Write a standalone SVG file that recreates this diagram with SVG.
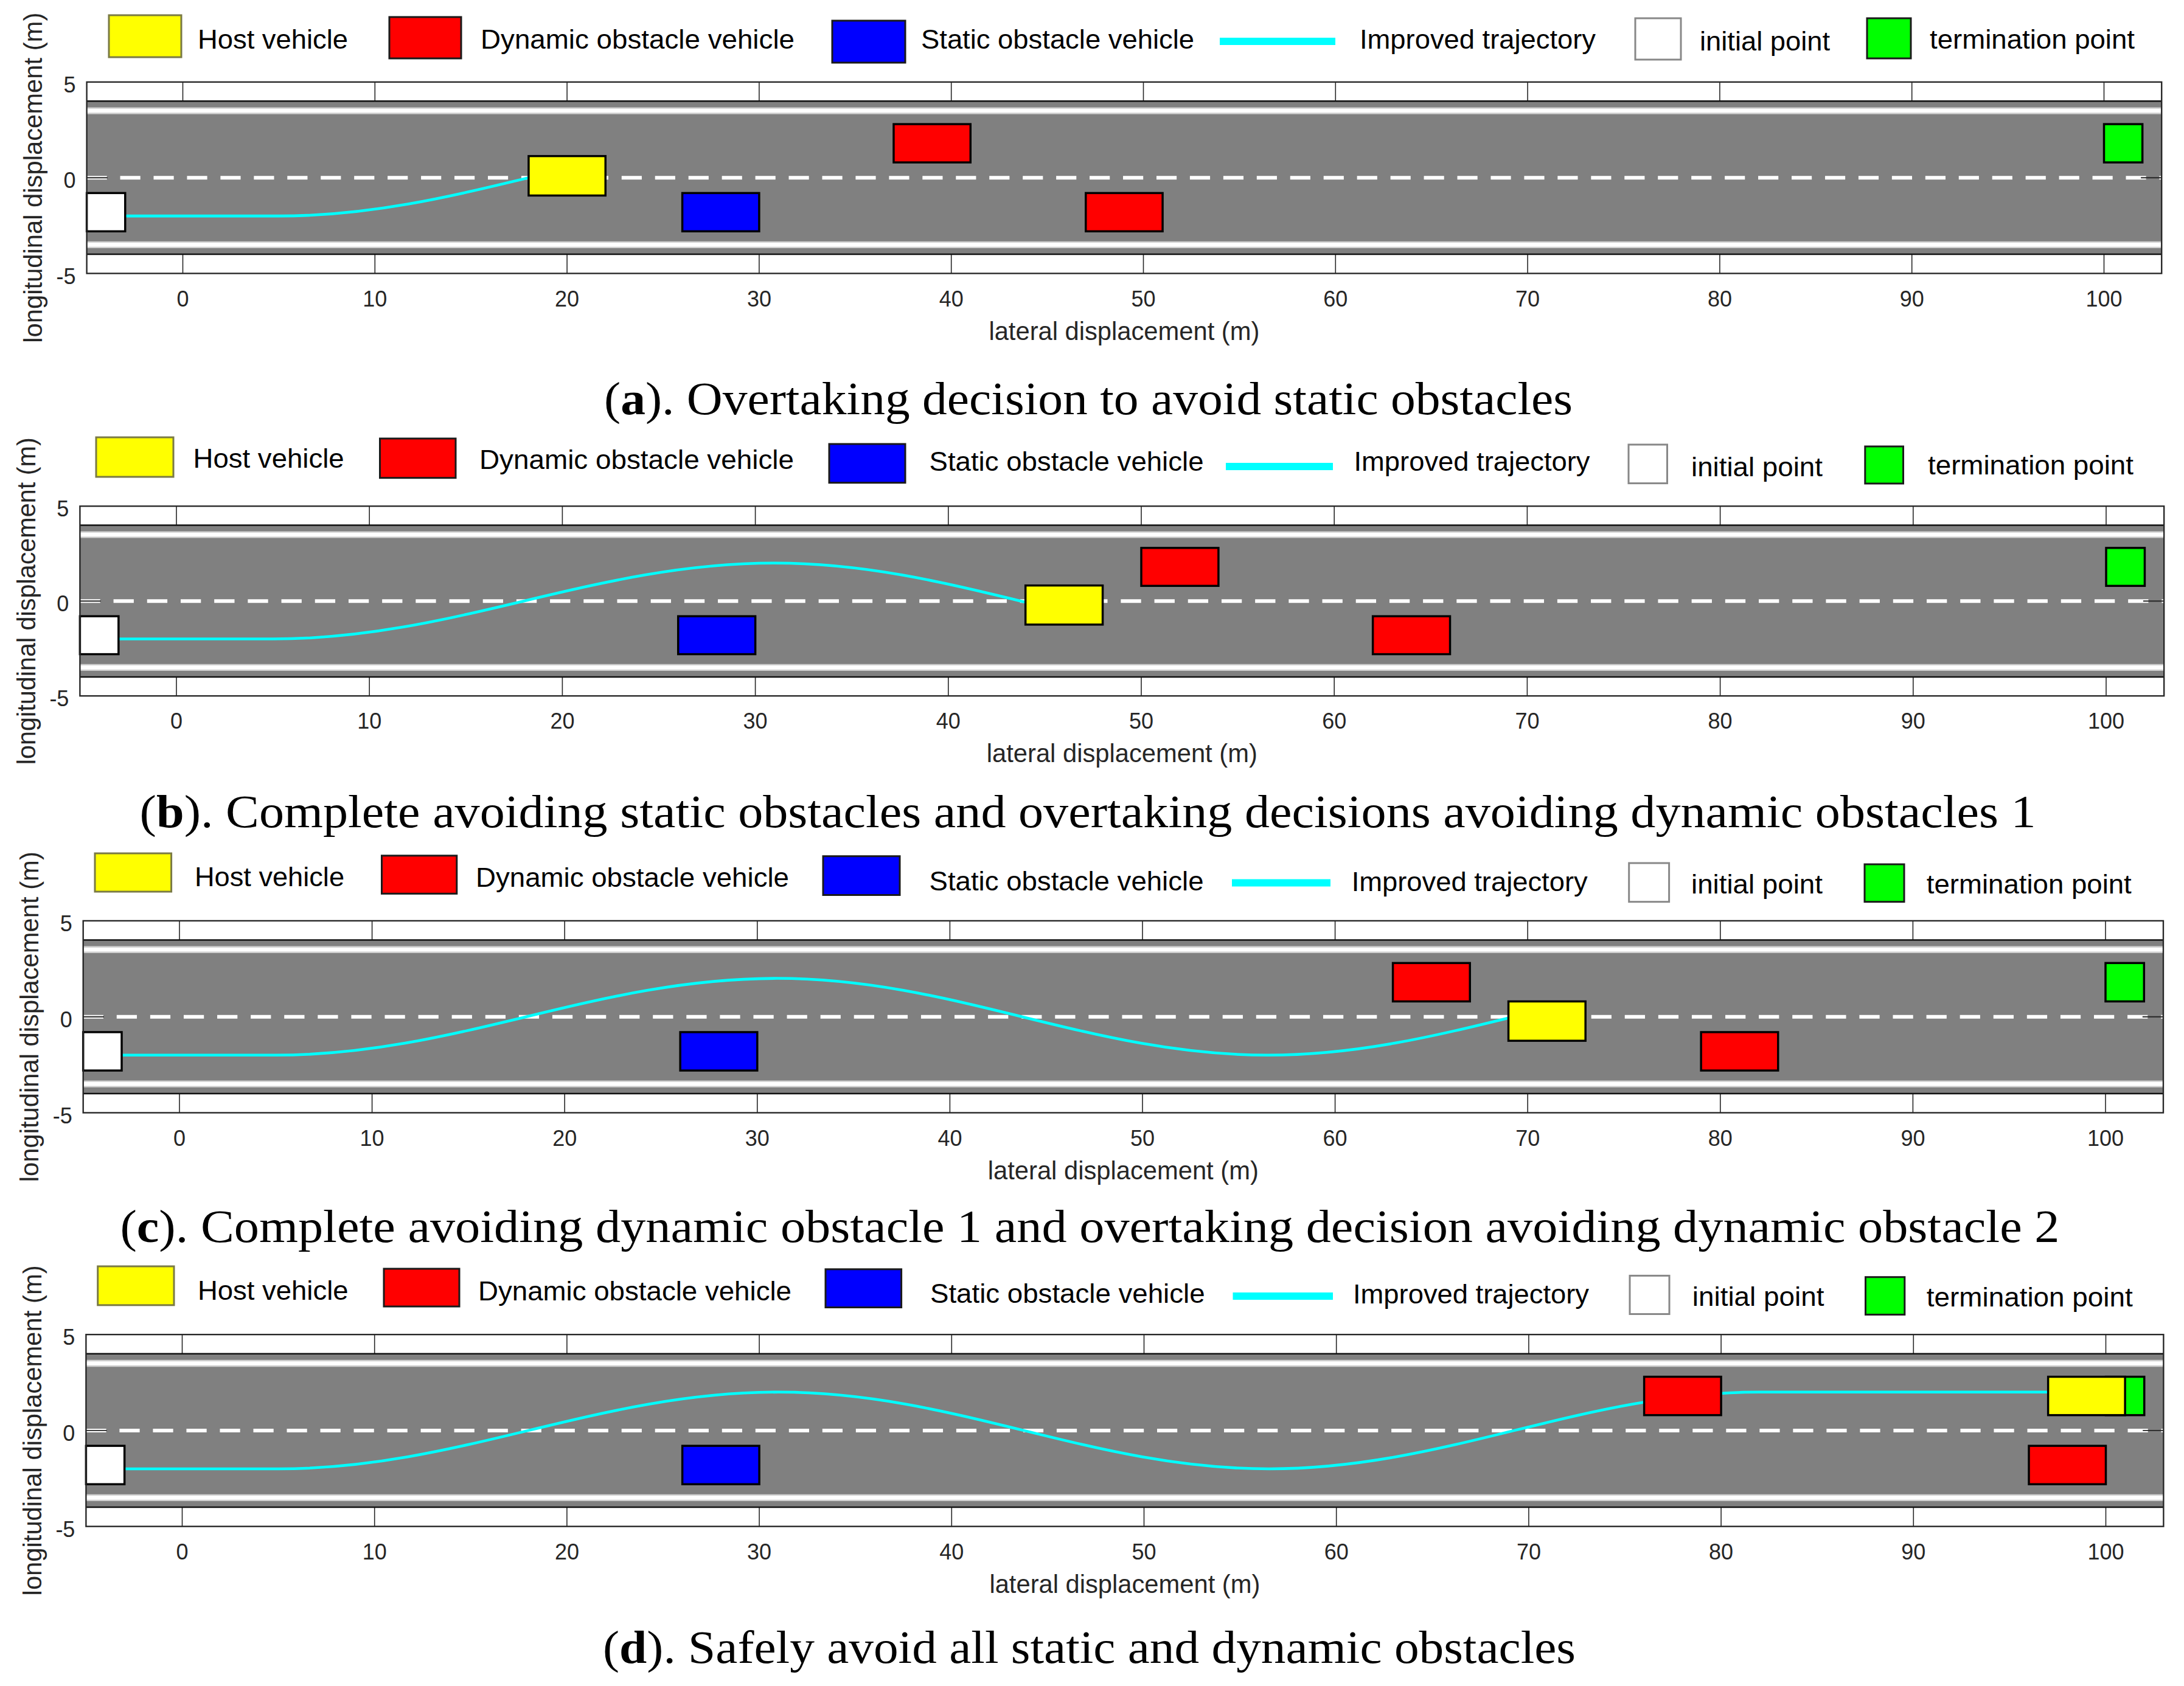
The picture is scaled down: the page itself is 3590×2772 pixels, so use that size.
<svg xmlns="http://www.w3.org/2000/svg" xmlns:xlink="http://www.w3.org/1999/xlink" width="3590" height="2772" viewBox="0 0 3590 2772">
<style>
.tick{font-family:"Liberation Sans",Arial,sans-serif;font-size:36px;fill:#262626;text-anchor:middle}
.ytick{font-family:"Liberation Sans",Arial,sans-serif;font-size:36px;fill:#262626;text-anchor:end}
.lab{font-family:"Liberation Sans",Arial,sans-serif;font-size:42px;fill:#262626;text-anchor:middle}
.leg{font-family:"Liberation Sans",Arial,sans-serif;font-size:45px;fill:#000}
.cap{font-family:"Liberation Serif","Times New Roman",serif;font-size:76px;fill:#000}
.lbox{stroke:#1a1a1a;stroke-width:3px}
.veh{stroke:#000;stroke-width:0.11px}
.traj{fill:none;stroke:#00ffff;stroke-width:0.145px}
.legline{stroke:#00ffff;stroke-width:12px}
</style>
<defs>
<clipPath id="ca"><rect x="-5" y="-5" width="23" height="10"/></clipPath>
<clipPath id="cb"><rect x="-5" y="-5" width="49" height="10"/></clipPath>
<clipPath id="cc"><rect x="-5" y="-5" width="74" height="10"/></clipPath>
<clipPath id="cd"><rect x="-5" y="-5" width="102" height="10"/></clipPath>
<g id="base">
<rect x="-5" y="-5" width="108" height="10" fill="#fff"/>
<path d="M0 5V4M10 5V4M20 5V4M30 5V4M40 5V4M50 5V4M60 5V4M70 5V4M80 5V4M90 5V4M100 5V4M0 -5V-4M10 -5V-4M20 -5V-4M30 -5V-4M40 -5V-4M50 -5V-4M60 -5V-4M70 -5V-4M80 -5V-4M90 -5V-4M100 -5V-4" stroke="#262626" stroke-width="0.05"/>
<rect x="-5" y="-4" width="108" height="8" fill="#808080"/>
<path d="M-5 4H103M-5 -4H103" stroke="#111" stroke-width="0.08"/>
<path d="M-5 3.5H103M-5 -3.5H103" stroke="#cfcfcf" stroke-width="0.36"/>
<path d="M-5 3.5H103M-5 -3.5H103" stroke="#fff" stroke-width="0.21"/>
<path d="M-5 0H103" stroke="#fff" stroke-width="0.19" stroke-dasharray="1.05 0.69"/>
<path d="M-5 0H-3.92M103 0H101.92" stroke="#262626" stroke-width="0.06"/>
</g>
<path id="trajpath" d="M-3 -2H5C14.449 -2 21.551 2 31 2C40.267 2 47.233 -2 56.5 -2C65.767 -2 72.733 2 82 2H97"/>
<rect id="frame" x="-5" y="-5" width="108" height="10" fill="none" stroke="#262626" stroke-width="0.075"/>
</defs>

<!-- ================= Panel (a) ================= -->
<g id="panel-a">
<g id="a-legend">
<rect x="179" y="25" width="119" height="69" fill="#ffff00" stroke="#7a7a45" stroke-width="3"/>
<text class="leg" x="325" y="79.5" textLength="247" lengthAdjust="spacingAndGlyphs">Host vehicle</text>
<rect class="lbox" x="640" y="28" width="118" height="68" fill="#ff0000"/>
<text class="leg" x="790" y="79.5" textLength="516" lengthAdjust="spacingAndGlyphs">Dynamic obstacle vehicle</text>
<rect class="lbox" x="1368" y="34" width="120" height="69" fill="#0000ff"/>
<text class="leg" x="1514" y="79.5" textLength="449" lengthAdjust="spacingAndGlyphs">Static obstacle vehicle</text>
<line class="legline" x1="2005" y1="68" x2="2195" y2="68"/>
<text class="leg" x="2235" y="79.5" textLength="388" lengthAdjust="spacingAndGlyphs">Improved trajectory</text>
<rect x="2688" y="30" width="75" height="68" fill="#fff" stroke="#888" stroke-width="3"/>
<text class="leg" x="2794" y="82.6" textLength="214" lengthAdjust="spacingAndGlyphs">initial point</text>
<rect class="lbox" x="3069" y="30" width="72" height="66" fill="#00ff00"/>
<text class="leg" x="3172" y="79.5" textLength="337" lengthAdjust="spacingAndGlyphs">termination point</text>
</g>
<g id="a-plot" transform="translate(300.5,292.2) scale(31.58,-31.47)">
<use xlink:href="#base"/>
<g id="a-trajectory" clip-path="url(#ca)"><use xlink:href="#trajpath" class="traj"/></g>
<g id="a-initial"><rect class="veh" x="-5" y="-2.8" width="2" height="2" fill="#fff"/></g>
<g id="a-static"><rect class="veh" x="26" y="-2.8" width="4" height="2" fill="#0000ff"/></g>
<g id="a-dynamic1"><rect class="veh" x="37" y="0.8" width="4" height="2" fill="#ff0000"/></g>
<g id="a-dynamic2"><rect class="veh" x="47" y="-2.8" width="4" height="2" fill="#ff0000"/></g>
<g id="a-termination"><rect class="veh" x="100" y="0.8" width="2" height="2" fill="#00ff00"/></g>
<g id="a-host"><rect class="veh" x="18" y="-0.93" width="4" height="2.06" fill="#ffff00"/></g>
<use xlink:href="#frame"/>
</g>
<g id="a-axis-text">
<text class="tick" x="300.5" y="503.5">0</text><text class="tick" x="616.3" y="503.5">10</text><text class="tick" x="932.1" y="503.5">20</text><text class="tick" x="1247.9" y="503.5">30</text><text class="tick" x="1563.7" y="503.5">40</text><text class="tick" x="1879.5" y="503.5">50</text><text class="tick" x="2195.3" y="503.5">60</text><text class="tick" x="2511.1" y="503.5">70</text><text class="tick" x="2826.9" y="503.5">80</text><text class="tick" x="3142.7" y="503.5">90</text><text class="tick" x="3458.5" y="503.5">100</text>
<text class="ytick" x="124.6" y="151.8">5</text><text class="ytick" x="124.6" y="309.2">0</text><text class="ytick" x="124.6" y="466.6">-5</text>
<text class="lab" x="1847.9" y="558.5" textLength="445" lengthAdjust="spacingAndGlyphs">lateral displacement (m)</text>
<text class="lab" transform="translate(69,292.2) rotate(-90)" x="0" y="0" textLength="543" lengthAdjust="spacingAndGlyphs">longitudinal displacement (m)</text>
</g>
<text id="a-caption" class="cap" x="993" y="681" textLength="1592" lengthAdjust="spacingAndGlyphs">(<tspan font-weight="bold">a</tspan>). Overtaking decision to avoid static obstacles</text>
</g>

<!-- ================= Panel (b) ================= -->
<g id="panel-b">
<g id="b-legend">
<rect x="158" y="719" width="127" height="65" fill="#ffff00" stroke="#7a7a45" stroke-width="3"/>
<text class="leg" x="317.6" y="769" textLength="248" lengthAdjust="spacingAndGlyphs">Host vehicle</text>
<rect class="lbox" x="624.5" y="721" width="124.5" height="64.7" fill="#ff0000"/>
<text class="leg" x="788" y="771" textLength="517" lengthAdjust="spacingAndGlyphs">Dynamic obstacle vehicle</text>
<rect class="lbox" x="1363" y="730" width="125" height="63.7" fill="#0000ff"/>
<text class="leg" x="1527.5" y="773.7" textLength="451" lengthAdjust="spacingAndGlyphs">Static obstacle vehicle</text>
<line class="legline" x1="2015" y1="767" x2="2191" y2="767"/>
<text class="leg" x="2225.5" y="773.7" textLength="388" lengthAdjust="spacingAndGlyphs">Improved trajectory</text>
<rect x="2677" y="731" width="63.5" height="63.6" fill="#fff" stroke="#888" stroke-width="3"/>
<text class="leg" x="2780" y="782.6" textLength="216" lengthAdjust="spacingAndGlyphs">initial point</text>
<rect class="lbox" x="3065.8" y="734" width="62.7" height="61" fill="#00ff00"/>
<text class="leg" x="3169" y="780" textLength="338" lengthAdjust="spacingAndGlyphs">termination point</text>
</g>
<g id="b-plot" transform="translate(290,988.2) scale(31.72,-31.2)">
<use xlink:href="#base"/>
<g id="b-trajectory" clip-path="url(#cb)"><use xlink:href="#trajpath" class="traj"/></g>
<g id="b-initial"><rect class="veh" x="-5" y="-2.8" width="2" height="2" fill="#fff"/></g>
<g id="b-static"><rect class="veh" x="26" y="-2.8" width="4" height="2" fill="#0000ff"/></g>
<g id="b-dynamic1"><rect class="veh" x="50" y="0.8" width="4" height="2" fill="#ff0000"/></g>
<g id="b-dynamic2"><rect class="veh" x="62" y="-2.8" width="4" height="2" fill="#ff0000"/></g>
<g id="b-termination"><rect class="veh" x="100" y="0.8" width="2" height="2" fill="#00ff00"/></g>
<g id="b-host"><rect class="veh" x="44" y="-1.24" width="4" height="2.06" fill="#ffff00"/></g>
<use xlink:href="#frame"/>
</g>
<g id="b-axis-text">
<text class="tick" x="290" y="1198">0</text><text class="tick" x="607.2" y="1198">10</text><text class="tick" x="924.4" y="1198">20</text><text class="tick" x="1241.6" y="1198">30</text><text class="tick" x="1558.8" y="1198">40</text><text class="tick" x="1876" y="1198">50</text><text class="tick" x="2193.2" y="1198">60</text><text class="tick" x="2510.4" y="1198">70</text><text class="tick" x="2827.6" y="1198">80</text><text class="tick" x="3144.8" y="1198">90</text><text class="tick" x="3462" y="1198">100</text>
<text class="ytick" x="113.4" y="849.2">5</text><text class="ytick" x="113.4" y="1005.2">0</text><text class="ytick" x="113.4" y="1161.2">-5</text>
<text class="lab" x="1844.3" y="1253.2" textLength="445" lengthAdjust="spacingAndGlyphs">lateral displacement (m)</text>
<text class="lab" transform="translate(58,988.2) rotate(-90)" x="0" y="0" textLength="538" lengthAdjust="spacingAndGlyphs">longitudinal displacement (m)</text>
</g>
<text id="b-caption" class="cap" x="229.6" y="1360" textLength="3117" lengthAdjust="spacingAndGlyphs">(<tspan font-weight="bold">b</tspan>). Complete avoiding static obstacles and overtaking decisions avoiding dynamic obstacles 1</text>
</g>

<!-- ================= Panel (c) ================= -->
<g id="panel-c">
<g id="c-legend">
<rect x="156" y="1403" width="125.6" height="63" fill="#ffff00" stroke="#7a7a45" stroke-width="3"/>
<text class="leg" x="320" y="1456.8" textLength="246" lengthAdjust="spacingAndGlyphs">Host vehicle</text>
<rect class="lbox" x="627.5" y="1406.8" width="123.3" height="62.5" fill="#ff0000"/>
<text class="leg" x="782" y="1458" textLength="515" lengthAdjust="spacingAndGlyphs">Dynamic obstacle vehicle</text>
<rect class="lbox" x="1353" y="1407.7" width="126" height="63.8" fill="#0000ff"/>
<text class="leg" x="1527.5" y="1464" textLength="451" lengthAdjust="spacingAndGlyphs">Static obstacle vehicle</text>
<line class="legline" x1="2025" y1="1451.4" x2="2187" y2="1451.4"/>
<text class="leg" x="2221.7" y="1464.8" textLength="388" lengthAdjust="spacingAndGlyphs">Improved trajectory</text>
<rect x="2677.7" y="1419" width="65.9" height="63.7" fill="#fff" stroke="#888" stroke-width="3"/>
<text class="leg" x="2780" y="1469.3" textLength="216" lengthAdjust="spacingAndGlyphs">initial point</text>
<rect class="lbox" x="3065" y="1421" width="65" height="61.7" fill="#00ff00"/>
<text class="leg" x="3166.8" y="1469.3" textLength="337" lengthAdjust="spacingAndGlyphs">termination point</text>
</g>
<g id="c-plot" transform="translate(295,1671.7) scale(31.66,-31.56)">
<use xlink:href="#base"/>
<g id="c-trajectory" clip-path="url(#cc)"><use xlink:href="#trajpath" class="traj"/></g>
<g id="c-initial"><rect class="veh" x="-5" y="-2.8" width="2" height="2" fill="#fff"/></g>
<g id="c-static"><rect class="veh" x="26" y="-2.8" width="4" height="2" fill="#0000ff"/></g>
<g id="c-dynamic1"><rect class="veh" x="63" y="0.8" width="4" height="2" fill="#ff0000"/></g>
<g id="c-dynamic2"><rect class="veh" x="79" y="-2.8" width="4" height="2" fill="#ff0000"/></g>
<g id="c-termination"><rect class="veh" x="100" y="0.8" width="2" height="2" fill="#00ff00"/></g>
<g id="c-host"><rect class="veh" x="69" y="-1.25" width="4" height="2.05" fill="#ffff00"/></g>
<use xlink:href="#frame"/>
</g>
<g id="c-axis-text">
<text class="tick" x="295" y="1883.5">0</text><text class="tick" x="611.6" y="1883.5">10</text><text class="tick" x="928.2" y="1883.5">20</text><text class="tick" x="1244.8" y="1883.5">30</text><text class="tick" x="1561.4" y="1883.5">40</text><text class="tick" x="1878" y="1883.5">50</text><text class="tick" x="2194.6" y="1883.5">60</text><text class="tick" x="2511.2" y="1883.5">70</text><text class="tick" x="2827.8" y="1883.5">80</text><text class="tick" x="3144.4" y="1883.5">90</text><text class="tick" x="3461" y="1883.5">100</text>
<text class="ytick" x="118.7" y="1530.9">5</text><text class="ytick" x="118.7" y="1688.7">0</text><text class="ytick" x="118.7" y="1846.5">-5</text>
<text class="lab" x="1846.3" y="1938.5" textLength="445" lengthAdjust="spacingAndGlyphs">lateral displacement (m)</text>
<text class="lab" transform="translate(63,1671.7) rotate(-90)" x="0" y="0" textLength="543" lengthAdjust="spacingAndGlyphs">longitudinal displacement (m)</text>
</g>
<text id="c-caption" class="cap" x="197.4" y="2041.6" textLength="3188" lengthAdjust="spacingAndGlyphs">(<tspan font-weight="bold">c</tspan>). Complete avoiding dynamic obstacle 1 and overtaking decision avoiding dynamic obstacle 2</text>
</g>

<!-- ================= Panel (d) ================= -->
<g id="panel-d">
<g id="d-legend">
<rect x="160.7" y="2082" width="125.3" height="63.8" fill="#ffff00" stroke="#7a7a45" stroke-width="3"/>
<text class="leg" x="325" y="2136.6" textLength="247.5" lengthAdjust="spacingAndGlyphs">Host vehicle</text>
<rect class="lbox" x="631" y="2086" width="124" height="62" fill="#ff0000"/>
<text class="leg" x="786" y="2138" textLength="515" lengthAdjust="spacingAndGlyphs">Dynamic obstacle vehicle</text>
<rect class="lbox" x="1357" y="2086.8" width="124.6" height="62.7" fill="#0000ff"/>
<text class="leg" x="1529" y="2142" textLength="451.6" lengthAdjust="spacingAndGlyphs">Static obstacle vehicle</text>
<line class="legline" x1="2026.5" y1="2131" x2="2191" y2="2131"/>
<text class="leg" x="2224" y="2143" textLength="388" lengthAdjust="spacingAndGlyphs">Improved trajectory</text>
<rect x="2679" y="2097.4" width="65" height="63.1" fill="#fff" stroke="#888" stroke-width="3"/>
<text class="leg" x="2781.8" y="2146.7" textLength="216.6" lengthAdjust="spacingAndGlyphs">initial point</text>
<rect class="lbox" x="3066.5" y="2099.7" width="64.3" height="61.7" fill="#00ff00"/>
<text class="leg" x="3166.8" y="2147.6" textLength="339" lengthAdjust="spacingAndGlyphs">termination point</text>
</g>
<g id="d-plot" transform="translate(299.5,2351.9) scale(31.62,-31.55)">
<use xlink:href="#base"/>
<g id="d-trajectory" clip-path="url(#cd)"><use xlink:href="#trajpath" class="traj"/></g>
<g id="d-initial"><rect class="veh" x="-5" y="-2.8" width="2" height="2" fill="#fff"/></g>
<g id="d-static"><rect class="veh" x="26" y="-2.8" width="4" height="2" fill="#0000ff"/></g>
<g id="d-dynamic1"><rect class="veh" x="76" y="0.8" width="4" height="2" fill="#ff0000"/></g>
<g id="d-dynamic2"><rect class="veh" x="96" y="-2.8" width="4" height="2" fill="#ff0000"/></g>
<g id="d-termination"><rect class="veh" x="100" y="0.8" width="2" height="2" fill="#00ff00"/></g>
<g id="d-host"><rect class="veh" x="97" y="0.8" width="4" height="2" fill="#ffff00"/></g>
<use xlink:href="#frame"/>
</g>
<g id="d-axis-text">
<text class="tick" x="299.5" y="2564">0</text><text class="tick" x="615.7" y="2564">10</text><text class="tick" x="931.9" y="2564">20</text><text class="tick" x="1248.1" y="2564">30</text><text class="tick" x="1564.3" y="2564">40</text><text class="tick" x="1880.5" y="2564">50</text><text class="tick" x="2196.7" y="2564">60</text><text class="tick" x="2512.9" y="2564">70</text><text class="tick" x="2829.1" y="2564">80</text><text class="tick" x="3145.3" y="2564">90</text><text class="tick" x="3461.5" y="2564">100</text>
<text class="ytick" x="123.4" y="2211.2">5</text><text class="ytick" x="123.4" y="2368.9">0</text><text class="ytick" x="123.4" y="2526.7">-5</text>
<text class="lab" x="1848.9" y="2618.7" textLength="445" lengthAdjust="spacingAndGlyphs">lateral displacement (m)</text>
<text class="lab" transform="translate(68,2351.9) rotate(-90)" x="0" y="0" textLength="543" lengthAdjust="spacingAndGlyphs">longitudinal displacement (m)</text>
</g>
<text id="d-caption" class="cap" x="991" y="2734" textLength="1599" lengthAdjust="spacingAndGlyphs">(<tspan font-weight="bold">d</tspan>). Safely avoid all static and dynamic obstacles</text>
</g>
</svg>
